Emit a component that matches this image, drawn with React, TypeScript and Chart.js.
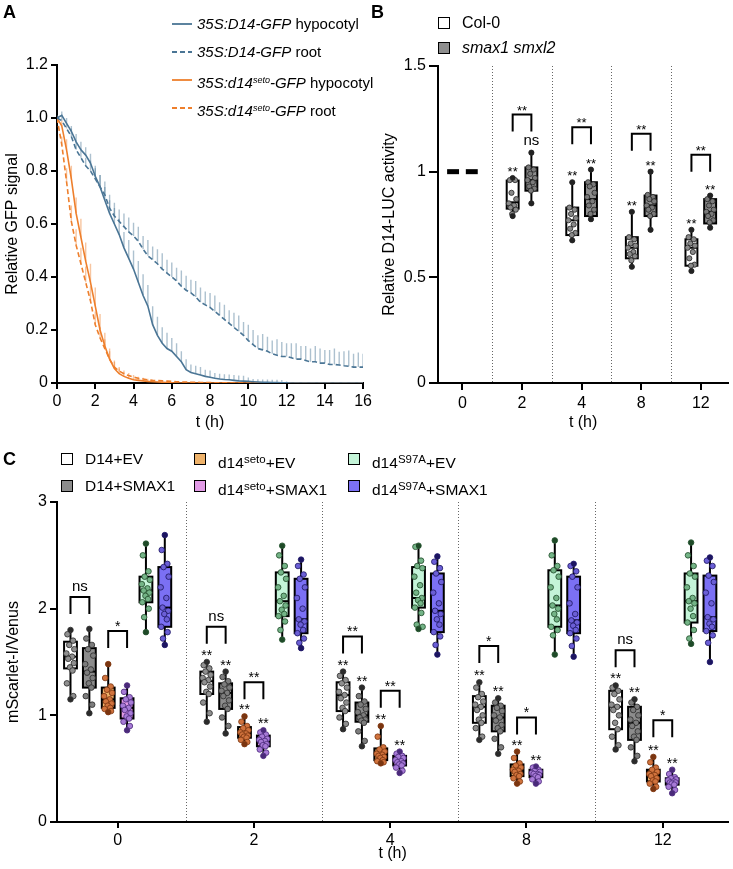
import React, { useEffect, useRef } from 'react';
import { Chart, registerables } from 'chart.js';

Chart.register(...registerables);

const FONT = '"Liberation Sans", Arial, Helvetica, sans-serif';

// ================= Panel A: GFP decay time course =================
const aTimeH = [0,0.25,0.5,0.75,1,1.25,1.5,1.75,2,2.25,2.5,2.75,3,3.25,3.5,3.75,4,4.25,4.5,4.75,5,5.25,5.5,5.75,6,6.25,6.5,6.75,7,7.25,7.5,7.75,8,8.25,8.5,8.75,9,9.25,9.5,9.75,10,10.25,10.5,10.75,11,11.25,11.5,11.75,12,12.25,12.5,12.75,13,13.25,13.5,13.75,14,14.25,14.5,14.75,15,15.25,15.5,15.75,16];
const aD14Hypocotyl = [
  1.00,1.01,0.98,0.95, 0.91,0.88,0.86,0.83, 0.78,0.74,0.69,0.64, 0.60,0.56,0.51,0.47,
  0.43,0.38,0.33,0.29, 0.22,0.18,0.15,0.13, 0.12,0.10,0.08,0.05, 0.04,0.035,0.03,0.025,
  0.022,0.018,0.015,0.013, 0.012,0.010,0.008,0.007, 0.006,0.005,0.004,0.003, 0.003,0.002,0.002,0.001,
  0.001,0,0,0, 0,0,0,0, 0,0,0,0, 0,0,0,0, 0];
const aD14HypocotylErr = [
  0.01,0.015,0.02,0.02, 0.03,0.03,0.03,0.035, 0.04,0.045,0.05,0.05, 0.06,0.06,0.06,0.07,
  0.07,0.08,0.08,0.08, 0.07,0.07,0.06,0.06, 0.05,0.05,0.04,0.04, 0.03,0.03,0.03,0.025,
  0.025,0.02,0.02,0.02, 0.02,0.02,0.02,0.02, 0.015,0.01,0.01,0.01, 0.01,0.01,0.01,0.01,
  0.005,0,0,0, 0,0,0,0, 0,0,0,0, 0,0,0,0, 0];
const aD14Root = [
  1.00,0.99,0.96,0.93, 0.88,0.85,0.82,0.80, 0.77,0.74,0.71,0.66, 0.63,0.61,0.59,0.57,
  0.555,0.535,0.505,0.48, 0.465,0.45,0.43,0.415, 0.40,0.385,0.365,0.35, 0.34,0.325,0.305,0.295,
  0.285,0.27,0.255,0.24, 0.225,0.21,0.195,0.18, 0.16,0.145,0.13,0.125, 0.12,0.11,0.105,0.10,
  0.10,0.095,0.09,0.09, 0.085,0.08,0.08,0.075, 0.075,0.07,0.07,0.068, 0.065,0.063,0.06,0.06, 0.06];
const aD14RootErr = [
  0.01,0.02,0.02,0.03, 0.03,0.035,0.03,0.04, 0.04,0.045,0.05,0.05, 0.05,0.045,0.05,0.055,
  0.05,0.055,0.05,0.06, 0.05,0.055,0.06,0.05, 0.055,0.05,0.06,0.055, 0.05,0.06,0.055,0.05,
  0.055,0.06,0.05,0.055, 0.05,0.055,0.06,0.05, 0.06,0.055,0.05,0.06, 0.055,0.05,0.06,0.055,
  0.05,0.055,0.06,0.05, 0.055,0.05,0.06,0.055, 0.05,0.055,0.06,0.05, 0.055,0.06,0.05,0.055, 0.05];
const aSetoHypocotyl = [
  1.00,0.97,0.88,0.77, 0.64,0.55,0.46,0.38, 0.29,0.20,0.14,0.09, 0.055,0.035,0.025,0.018,
  0.012,0.010,0.008,0.006, 0.005,0.004,0.003,0.002, 0.001,0,0,0, 0,0,0,0,
  0,0,0,0, 0,0,0,0, 0,0,0,0, 0,0,0,0,
  0,0,0,0, 0,0,0,0, 0,0,0,0, 0,0,0,0, 0];
const aSetoHypocotylErr = [
  0.005,0.02,0.04,0.05, 0.06,0.07,0.07,0.07, 0.07,0.06,0.05,0.04, 0.03,0.02,0.015,0.01,
  0.01,0.008,0.005,0.005, 0,0,0,0, 0,0,0,0, 0,0,0,0,
  0,0,0,0, 0,0,0,0, 0,0,0,0, 0,0,0,0,
  0,0,0,0, 0,0,0,0, 0,0,0,0, 0,0,0,0, 0];
const aSetoRoot = [
  1.00,0.90,0.76,0.61, 0.52,0.45,0.38,0.31, 0.22,0.17,0.13,0.09, 0.06,0.045,0.035,0.028,
  0.022,0.018,0.015,0.012, 0.010,0.009,0.008,0.007, 0.006,0.005,0.004,0.004, 0.003,0.003,0.002,0.002,
  0.002,0.001,0.001,0.001, 0,0,0,0, 0,0,0,0, 0,0,0,0,
  0,0,0,0, 0,0,0,0, 0,0,0,0, 0,0,0,0, 0];
const aSetoRootErr = [
  0.005,0.03,0.05,0.06, 0.06,0.06,0.06,0.055, 0.05,0.04,0.035,0.03, 0.02,0.015,0.012,0.01,
  0.008,0.006,0.005,0.004, 0,0,0,0, 0,0,0,0, 0,0,0,0,
  0,0,0,0, 0,0,0,0, 0,0,0,0, 0,0,0,0,
  0,0,0,0, 0,0,0,0, 0,0,0,0, 0,0,0,0, 0];
const aXTicks = [0, 2, 4, 6, 8, 10, 12, 14, 16];
const aYTicks = [0, 0.2, 0.4, 0.6, 0.8, 1.0, 1.2];

// ================= Panel B: D14-LUC =================
const bCategories = ['0', '2', '4', '8', '12'];
const bTicks = [0, 1, 2, 3, 4];
const bYTicks = [0, 0.5, 1, 1.5];
const bYTickLabels = ['0', '0.5', '1', '1.5'];
// [min, q1, median, q3, max]
const bCol0Stats = [[1,1,1,1,1],[0.79,0.825,0.855,0.958,0.97],[0.675,0.70,0.77,0.83,0.95],[0.55,0.59,0.64,0.69,0.81],[0.53,0.555,0.64,0.68,0.725]];
const bSmaxStats = [[1,1,1,1,1],[0.85,0.91,0.96,1.02,1.09],[0.775,0.79,0.87,0.95,1.01],[0.725,0.79,0.84,0.887,1.0],[0.735,0.755,0.81,0.87,0.887]];
const bCol0Points = [[],
  [0.97,0.96,0.96,0.90,0.87,0.85,0.84,0.83,0.82,0.80,0.79],
  [0.95,0.83,0.82,0.80,0.78,0.77,0.75,0.73,0.71,0.70,0.675],
  [0.81,0.69,0.68,0.66,0.65,0.64,0.62,0.61,0.60,0.58,0.55],
  [0.725,0.69,0.68,0.66,0.65,0.64,0.62,0.59,0.56,0.555,0.53]];
const bSmaxPoints = [[],
  [1.09,1.02,1.01,0.99,0.97,0.96,0.95,0.93,0.92,0.91,0.85],
  [1.01,0.95,0.94,0.93,0.90,0.88,0.86,0.84,0.82,0.80,0.775],
  [1.0,0.89,0.88,0.87,0.86,0.84,0.83,0.82,0.80,0.79,0.725],
  [0.887,0.87,0.86,0.84,0.82,0.81,0.80,0.79,0.77,0.76,0.735]];
const bCol0Labels = ['', '**', '**', '**', '**'];
const bSmaxLabels = ['', 'ns', '**', '**', '**'];
const bBracketY = [null, 1.27, 1.21, 1.18, 1.08];
const bBracketLabels = ['', '**', '**', '**', '**'];

// ================= Panel C: mScarlet-I / Venus =================
const cCategories = ['0', '2', '4', '8', '12'];
const cTicks = [0, 1, 2, 3, 4];
const cYTicks = [0, 1, 2, 3];
const cYTickLabels = ['0', '1', '2', '3'];
const cD14EVStats = [[1.15,1.44,1.55,1.69,1.80],[0.94,1.20,1.32,1.41,1.50],[0.87,1.04,1.19,1.31,1.41],[0.77,0.93,1.08,1.18,1.31],[0.68,0.87,1.08,1.23,1.28]];
const cD14SmaxStats = [[1.02,1.26,1.41,1.63,1.81],[0.83,1.06,1.21,1.30,1.41],[0.71,0.94,1.00,1.12,1.26],[0.64,0.85,0.98,1.09,1.16],[0.57,0.77,0.93,1.08,1.15]];
const cSetoEVStats = [[1.03,1.07,1.15,1.26,1.48],[0.73,0.79,0.83,0.89,0.99],[0.55,0.58,0.63,0.69,0.90],[0.36,0.43,0.48,0.54,0.66],[0.31,0.38,0.44,0.49,0.61]];
const cSetoSmaxStats = [[0.86,0.97,1.07,1.16,1.28],[0.62,0.71,0.76,0.81,0.86],[0.46,0.53,0.57,0.62,0.66],[0.36,0.42,0.45,0.49,0.52],[0.27,0.35,0.38,0.41,0.49]];
const cS97AEVStats = [[1.78,2.06,2.17,2.30,2.61],[1.71,1.93,2.07,2.34,2.59],[1.81,2.01,2.10,2.39,2.59],[1.57,1.83,2.03,2.36,2.64],[1.67,1.87,2.07,2.33,2.62]];
const cS97ASmaxStats = [[1.66,1.83,2.01,2.39,2.69],[1.63,1.77,1.90,2.28,2.46],[1.57,1.78,1.98,2.33,2.49],[1.55,1.77,1.89,2.30,2.42],[1.50,1.79,1.92,2.31,2.48]];
const cD14EVPoints = [
  [1.80,1.76,1.70,1.66,1.62,1.58,1.55,1.53,1.49,1.45,1.42,1.30,1.18,1.15],
  [1.50,1.47,1.44,1.41,1.38,1.35,1.33,1.31,1.27,1.22,1.20,1.12,1.02,0.94],
  [1.41,1.37,1.33,1.30,1.26,1.22,1.19,1.16,1.12,1.07,1.04,0.98,0.92,0.87],
  [1.31,1.26,1.20,1.17,1.13,1.10,1.08,1.05,1.00,0.96,0.93,0.88,0.80,0.77],
  [1.28,1.26,1.23,1.20,1.15,1.10,1.08,1.05,1.00,0.93,0.87,0.80,0.72,0.68]];
const cD14SmaxPoints = [
  [1.81,1.72,1.66,1.62,1.56,1.48,1.43,1.40,1.35,1.30,1.26,1.18,1.10,1.02],
  [1.41,1.36,1.32,1.29,1.26,1.23,1.21,1.18,1.14,1.09,1.06,0.98,0.90,0.83],
  [1.26,1.18,1.13,1.10,1.06,1.03,1.00,0.98,0.96,0.95,0.93,0.85,0.76,0.71],
  [1.16,1.12,1.09,1.07,1.04,1.00,0.98,0.95,0.91,0.88,0.85,0.78,0.70,0.64],
  [1.15,1.12,1.08,1.05,1.00,0.96,0.93,0.90,0.85,0.80,0.77,0.70,0.62,0.57]];
const cSetoEVPoints = [
  [1.48,1.35,1.27,1.24,1.21,1.18,1.15,1.13,1.11,1.09,1.07,1.06,1.04,1.03],
  [0.99,0.94,0.90,0.88,0.86,0.84,0.83,0.82,0.81,0.80,0.79,0.77,0.75,0.73],
  [0.90,0.80,0.70,0.68,0.66,0.64,0.63,0.62,0.61,0.60,0.58,0.57,0.56,0.55],
  [0.66,0.60,0.55,0.53,0.51,0.49,0.48,0.47,0.45,0.44,0.43,0.41,0.38,0.36],
  [0.61,0.56,0.51,0.49,0.47,0.45,0.44,0.43,0.41,0.39,0.38,0.36,0.33,0.31]];
const cSetoSmaxPoints = [
  [1.28,1.22,1.17,1.15,1.12,1.09,1.07,1.05,1.02,0.99,0.97,0.94,0.90,0.86],
  [0.86,0.84,0.82,0.80,0.78,0.77,0.76,0.75,0.73,0.72,0.71,0.68,0.65,0.62],
  [0.66,0.64,0.62,0.61,0.60,0.58,0.57,0.56,0.55,0.54,0.53,0.51,0.48,0.46],
  [0.52,0.51,0.49,0.48,0.47,0.46,0.45,0.45,0.44,0.43,0.42,0.40,0.38,0.36],
  [0.49,0.45,0.42,0.41,0.40,0.39,0.38,0.37,0.37,0.36,0.35,0.33,0.30,0.27]];
const cS97AEVPoints = [
  [2.61,2.50,2.35,2.30,2.27,2.23,2.19,2.17,2.15,2.12,2.09,2.06,2.00,1.92,1.78],
  [2.59,2.50,2.40,2.34,2.28,2.20,2.12,2.07,2.03,1.99,1.95,1.93,1.88,1.80,1.71],
  [2.59,2.58,2.45,2.40,2.38,2.30,2.22,2.15,2.10,2.08,2.05,2.01,1.96,1.85,1.83,1.81],
  [2.64,2.50,2.40,2.36,2.30,2.20,2.10,2.03,2.00,1.95,1.90,1.83,1.80,1.75,1.57],
  [2.62,2.50,2.40,2.33,2.30,2.20,2.10,2.07,2.05,2.00,1.93,1.87,1.80,1.72,1.67]];
const cS97ASmaxPoints = [
  [2.69,2.55,2.42,2.39,2.30,2.20,2.10,2.01,1.98,1.95,1.90,1.83,1.78,1.72,1.66],
  [2.46,2.40,2.32,2.28,2.20,2.10,2.00,1.90,1.88,1.85,1.80,1.77,1.72,1.68,1.63],
  [2.49,2.44,2.38,2.33,2.25,2.15,2.05,1.98,1.95,1.90,1.85,1.78,1.74,1.66,1.57],
  [2.42,2.40,2.35,2.30,2.20,2.05,1.95,1.89,1.87,1.84,1.80,1.77,1.72,1.65,1.55],
  [2.48,2.45,2.40,2.31,2.25,2.15,2.05,1.92,1.90,1.86,1.83,1.79,1.75,1.68,1.50]];
const cStarLabels = ['', '**', '**', '**', '**'];
const cNoLabels = ['', '', '', '', ''];
const cD14BracketY = [2.11, 1.83, 1.74, 1.65, 1.61];
const cD14BracketLabels = ['ns', 'ns', '**', '*', 'ns'];
const cSetoBracketY = [1.79, 1.31, 1.23, 0.98, 0.955];
const cSetoBracketLabels = ['*', '**', '**', '*', '*'];

// ================= styling helpers =================
const JITTER = [0.15, -0.6, 0.5, -0.25, 0.75, -0.8, 0.3, -0.45, 0.65, -0.1, 0.4, -0.7, 0.55, -0.35, 0.8, -0.55, 0.05];

function axis(size: number, tickLength: number, padding: number) {
  return {
    ticks: { color: '#000', font: { family: FONT, size }, padding, autoSkip: false, maxRotation: 0 },
    grid: { display: true, drawOnChartArea: false, drawTicks: true, tickLength, color: '#000', lineWidth: 2 },
    border: { display: true, color: '#000', width: 2 },
  };
}

const errorBarPlugin = {
  id: 'errorBars',
  beforeDatasetsDraw(chart: any) {
    const { ctx, chartArea, scales } = chart;
    const x = scales.x, y = scales.y;
    ctx.save();
    ctx.beginPath();
    ctx.rect(chartArea.left, chartArea.top - 5, chartArea.width, chartArea.height + 5);
    ctx.clip();
    chart.data.datasets.forEach((ds: any) => {
      const errs = ds.errUp;
      if (!errs) return;
      ctx.strokeStyle = ds.errColor;
      ctx.lineWidth = 1.4;
      ctx.beginPath();
      ds.data.forEach((p: any, j: number) => {
        if (!errs[j]) return;
        const px = x.getPixelForValue(p.x);
        ctx.moveTo(px, y.getPixelForValue(p.y));
        ctx.lineTo(px, y.getPixelForValue(p.y + errs[j]));
      });
      ctx.stroke();
    });
    ctx.restore();
  },
};

type BoxGroup = {
  offset: number; half: number; fill: string; ptFill: string; ptStroke: string;
  stats: number[][]; points: number[][]; labels: string[];
};
type Bracket = { a: number; b: number; ys: (number | null)[]; labels: string[] };

function drawAnn(ctx: any, text: string, cx: number, refY: number, starSize: number, nsSize: number) {
  if (!text) return;
  const isWord = /[a-z]/.test(text);
  ctx.font = `${isWord ? nsSize : starSize}px ${FONT}`;
  ctx.fillStyle = '#000';
  ctx.textAlign = 'center';
  ctx.textBaseline = 'alphabetic';
  ctx.fillText(text, cx, isWord ? refY - 5 : refY + 1);
}

function makeBoxPlugin(groups: BoxGroup[], brackets: Bracket[], separators: number[], legLen: number, starSize: number, nsSize: number) {
  return {
    id: 'boxes',
    beforeDatasetsDraw(chart: any) {
      const { ctx, chartArea, scales } = chart;
      const x = scales.x, y = scales.y;
      ctx.save();
      ctx.strokeStyle = '#666';
      ctx.lineWidth = 1;
      ctx.setLineDash([1, 2]);
      separators.forEach((s) => {
        const px = Math.round(x.getPixelForValue(s)) + 0.5;
        ctx.beginPath();
        ctx.moveTo(px, chartArea.top);
        ctx.lineTo(px, chartArea.bottom);
        ctx.stroke();
      });
      ctx.setLineDash([]);
      groups.forEach((g) => g.stats.forEach((st, ci) => {
        const c = ci + g.offset;
        const cx = x.getPixelForValue(c);
        const l = x.getPixelForValue(c - g.half);
        const r = x.getPixelForValue(c + g.half);
        const [pMn, pQ1, pMd, pQ3, pMx] = st.map((v) => y.getPixelForValue(v));
        if (st[3] - st[1] < 1e-9) {
          ctx.fillStyle = '#000';
          ctx.fillRect(l, pMd - 2.5, r - l, 5);
          return;
        }
        ctx.strokeStyle = '#000';
        ctx.lineWidth = 2;
        ctx.beginPath();
        ctx.moveTo(cx, pMx); ctx.lineTo(cx, pQ3);
        ctx.moveTo(cx, pQ1); ctx.lineTo(cx, pMn);
        ctx.stroke();
        ctx.fillStyle = g.fill;
        ctx.fillRect(l, pQ3, r - l, pQ1 - pQ3);
        ctx.strokeRect(l, pQ3, r - l, pQ1 - pQ3);
        ctx.beginPath();
        ctx.moveTo(l, pMd); ctx.lineTo(r, pMd);
        ctx.stroke();
      }));
      ctx.restore();
    },
    afterDatasetsDraw(chart: any) {
      const { ctx, scales } = chart;
      const x = scales.x, y = scales.y;
      ctx.save();
      groups.forEach((g) => g.stats.forEach((st, ci) => {
        if (st[3] - st[1] < 1e-9) return;
        const cx = x.getPixelForValue(ci + g.offset);
        const pMx = y.getPixelForValue(st[4]);
        const pMn = y.getPixelForValue(st[0]);
        ctx.fillStyle = g.ptStroke;
        [pMx, pMn].forEach((py) => { ctx.beginPath(); ctx.arc(cx, py, 2.6, 0, Math.PI * 2); ctx.fill(); });
        drawAnn(ctx, g.labels[ci], cx, pMx - 3, starSize, nsSize);
      }));
      ctx.strokeStyle = '#000';
      ctx.lineWidth = 2;
      brackets.forEach((b) => b.ys.forEach((val, ci) => {
        if (val === null || val === undefined) return;
        const xa = x.getPixelForValue(ci + groups[b.a].offset);
        const xb = x.getPixelForValue(ci + groups[b.b].offset);
        const T = y.getPixelForValue(val);
        ctx.beginPath();
        ctx.moveTo(xa, T + legLen); ctx.lineTo(xa, T); ctx.lineTo(xb, T); ctx.lineTo(xb, T + legLen);
        ctx.stroke();
        drawAnn(ctx, b.labels[ci], (xa + xb) / 2, T - 1, starSize, nsSize);
      }));
      ctx.restore();
    },
  };
}

function pointData(g: BoxGroup) {
  const out: { x: number; y: number }[] = [];
  g.points.forEach((pts, ci) => {
    const st = g.stats[ci];
    pts.forEach((v, k) => {
      const extreme = v === st[0] || v === st[4];
      const j = extreme ? 0 : JITTER[k % JITTER.length] * g.half * 0.8;
      out.push({ x: ci + g.offset + j, y: v });
    });
  });
  return out;
}

function boxChartConfig(groups: BoxGroup[], brackets: Bracket[], o: any) {
  const xAxis = axis(o.xTickSize, o.xTickLen, o.xTickPad);
  const yAxis = axis(o.yTickSize, o.yTickLen, o.yTickPad);
  return {
    type: 'scatter',
    data: {
      datasets: groups.map((g) => ({
        data: pointData(g),
        pointRadius: o.ptRadius,
        pointBackgroundColor: g.ptFill,
        pointBorderColor: g.ptStroke,
        pointBorderWidth: 0.8,
        showLine: false,
      })),
    },
    options: {
      responsive: false,
      animation: false,
      events: [],
      layout: { padding: o.padding },
      plugins: { legend: { display: false }, tooltip: { enabled: false } },
      scales: {
        x: {
          type: 'linear', min: o.xMin, max: o.xMax,
          ...xAxis,
          afterBuildTicks: (s: any) => { s.ticks = o.xTicks.map((v: number) => ({ value: v })); },
          afterFit: (s: any) => { s.height = o.xHeight; },
          ticks: { ...xAxis.ticks, callback: (v: any) => o.xLabels[o.xTicks.indexOf(Math.round(v))] },
          title: { display: true, text: 't (h)', color: '#000', font: { family: FONT, size: 16 }, padding: { top: 0, bottom: o.xTitlePad } },
        },
        y: {
          type: 'linear', min: o.yMin, max: o.yMax,
          ...yAxis,
          afterBuildTicks: (s: any) => { s.ticks = o.yTicks.map((v: number) => ({ value: v })); },
          ticks: { ...yAxis.ticks, callback: (v: any) => { const i = o.yTicks.findIndex((t: number) => Math.abs(t - v) < 1e-9); return i >= 0 ? o.yLabels[i] : ''; } },
          afterFit: (s: any) => { s.width = o.yWidth; },
          title: { display: true, text: o.yTitle, color: '#000', font: { family: FONT, size: 16 }, padding: { top: o.yTitlePad, bottom: 0 } },
        },
      },
    },
    plugins: [makeBoxPlugin(groups, brackets, [0.5, 1.5, 2.5, 3.5], o.legLen, o.starSize, o.nsSize)],
  };
}

// ================= charts =================
const BLUE = '#4a7595';
const BLUE_ERR = 'rgba(74,117,149,0.45)';
const ORANGE = '#ee7f2c';
const ORANGE_ERR = 'rgba(238,127,44,0.45)';

function lineDs(values: number[], errs: number[], color: string, errColor: string, dashed: boolean) {
  return {
    data: aTimeH.map((t, i) => ({ x: t, y: values[i] })),
    errUp: errs,
    errColor,
    borderColor: color,
    borderWidth: 1.6,
    borderDash: dashed ? [5, 3] : [],
    pointRadius: 0,
    fill: false,
    tension: 0,
  };
}

function configA() {
  const ax = axis(16, 6, 3);
  return {
    type: 'line',
    data: {
      datasets: [
        lineDs(aD14Hypocotyl, aD14HypocotylErr, BLUE, BLUE_ERR, false),
        lineDs(aD14Root, aD14RootErr, BLUE, BLUE_ERR, true),
        lineDs(aSetoHypocotyl, aSetoHypocotylErr, ORANGE, ORANGE_ERR, false),
        lineDs(aSetoRoot, aSetoRootErr, ORANGE, ORANGE_ERR, true),
      ],
    },
    options: {
      responsive: false,
      animation: false,
      events: [],
      layout: { padding: { top: 65, right: 10, bottom: 0, left: 0 } },
      plugins: { legend: { display: false }, tooltip: { enabled: false } },
      scales: {
        x: {
          type: 'linear', min: 0, max: 16,
          ...ax,
          afterBuildTicks: (s: any) => { s.ticks = aXTicks.map((v) => ({ value: v })); },
          afterFit: (s: any) => { s.height = 49; },
          title: { display: true, text: 't (h)', color: '#000', font: { family: FONT, size: 16 }, padding: 0 },
        },
        y: {
          type: 'linear', min: 0, max: 1.2,
          ...ax,
          afterBuildTicks: (s: any) => { s.ticks = aYTicks.map((v) => ({ value: v })); },
          ticks: { ...ax.ticks, callback: (v: any) => (v === 0 ? '0' : Number(v).toFixed(1)) },
          afterFit: (s: any) => { s.width = 57; },
          title: { display: true, text: 'Relative GFP signal', color: '#000', font: { family: FONT, size: 16 }, padding: { top: 3, bottom: 0 } },
        },
      },
    },
    plugins: [errorBarPlugin],
  };
}

const B_HALF = 0.1;
const bGroups: BoxGroup[] = [
  { offset: -0.157, half: B_HALF, fill: '#ffffff', ptFill: '#8a8a8a', ptStroke: '#222', stats: bCol0Stats, points: bCol0Points, labels: bCol0Labels },
  { offset: 0.157, half: B_HALF, fill: '#8e8e8e', ptFill: '#7a7a7a', ptStroke: '#222', stats: bSmaxStats, points: bSmaxPoints, labels: bSmaxLabels },
];
const bBrackets: Bracket[] = [{ a: 0, b: 1, ys: bBracketY, labels: bBracketLabels }];

const C_STEP = 0.1384;
const C_HALF = 0.047;
const cGroups: BoxGroup[] = [
  { offset: -2.5 * C_STEP, half: C_HALF, fill: '#ffffff', ptFill: '#8f8f8f', ptStroke: '#2b2b2b', stats: cD14EVStats, points: cD14EVPoints, labels: cStarLabels },
  { offset: -1.5 * C_STEP, half: C_HALF, fill: '#8c8c8c', ptFill: '#7d7d7d', ptStroke: '#2b2b2b', stats: cD14SmaxStats, points: cD14SmaxPoints, labels: cStarLabels },
  { offset: -0.5 * C_STEP, half: C_HALF, fill: '#eeb26a', ptFill: '#d0733d', ptStroke: '#7a3510', stats: cSetoEVStats, points: cSetoEVPoints, labels: cStarLabels },
  { offset: 0.5 * C_STEP, half: C_HALF, fill: '#e29be6', ptFill: '#a77ad6', ptStroke: '#4a2a7a', stats: cSetoSmaxStats, points: cSetoSmaxPoints, labels: cStarLabels },
  { offset: 1.5 * C_STEP, half: C_HALF, fill: '#c4f4d8', ptFill: '#74b487', ptStroke: '#1f4a28', stats: cS97AEVStats, points: cS97AEVPoints, labels: cNoLabels },
  { offset: 2.5 * C_STEP, half: C_HALF, fill: '#7b70f4', ptFill: '#6b5fd6', ptStroke: '#1c1560', stats: cS97ASmaxStats, points: cS97ASmaxPoints, labels: cNoLabels },
];
const cBrackets: Bracket[] = [
  { a: 0, b: 1, ys: cD14BracketY, labels: cD14BracketLabels },
  { a: 2, b: 3, ys: cSetoBracketY, labels: cSetoBracketLabels },
];

function configB() {
  return boxChartConfig(bGroups, bBrackets, {
    padding: { top: 66, right: 0, bottom: 0, left: 0 },
    xMin: -0.41, xMax: 4.46, xTicks: bTicks, xLabels: bCategories, xTickSize: 16, xTickLen: 7, xTickPad: 4, xHeight: 49, xTitlePad: 0,
    yMin: 0, yMax: 1.5, yTicks: bYTicks, yLabels: bYTickLabels, yTickSize: 16, yTickLen: 9, yTickPad: 3, yWidth: 68, yTitle: 'Relative D14-LUC activity', yTitlePad: 10,
    ptRadius: 2.6, legLen: 17, starSize: 13, nsSize: 15,
  });
}

function configC() {
  return boxChartConfig(cGroups, cBrackets, {
    padding: { top: 62, right: 0, bottom: 0, left: 0 },
    xMin: -0.445, xMax: 4.48, xTicks: cTicks, xLabels: cCategories, xTickSize: 16, xTickLen: 6, xTickPad: 3, xHeight: 47, xTitlePad: 6,
    yMin: 0, yMax: 3, yTicks: cYTicks, yLabels: cYTickLabels, yTickSize: 16, yTickLen: 7, yTickPad: 3, yWidth: 57, yTitle: 'mScarlet-I/Venus', yTitlePad: 4,
    ptRadius: 2.8, legLen: 17, starSize: 14, nsSize: 15,
  });
}

// ================= legends (HTML) =================
const aLegendRows = [
  { color: BLUE, dashed: false, it: '35S:D14', sup: '', it2: '-GFP', rest: ' hypocotyl' },
  { color: BLUE, dashed: true, it: '35S:D14', sup: '', it2: '-GFP', rest: ' root' },
  { color: ORANGE, dashed: false, it: '35S:d14', sup: 'seto', it2: '-GFP', rest: ' hypocotyl' },
  { color: ORANGE, dashed: true, it: '35S:d14', sup: 'seto', it2: '-GFP', rest: ' root' },
];
const cLegendParts = [
  ['D14', '', '+EV'], ['D14', '', '+SMAX1'],
  ['d14', 'seto', '+EV'], ['d14', 'seto', '+SMAX1'],
  ['d14', 'S97A', '+EV'], ['d14', 'S97A', '+SMAX1'],
];

const abs = (left: number, top: number, extra: any = {}) => ({ position: 'absolute' as const, left, top, ...extra });

export default function App() {
  const aRef = useRef<HTMLCanvasElement>(null);
  const bRef = useRef<HTMLCanvasElement>(null);
  const cRef = useRef<HTMLCanvasElement>(null);

  useEffect(() => {
    const a = new Chart(aRef.current as any, configA() as any);
    const b = new Chart(bRef.current as any, configB() as any);
    const c = new Chart(cRef.current as any, configC() as any);
    return () => { a.destroy(); b.destroy(); c.destroy(); };
  }, []);

  const aRowY = [24, 52, 80, 108];
  const cColX = [61, 194, 348];
  const cRowY = [459, 486];

  return (
    <div style={{ position: 'absolute', left: 0, top: 0, width: 733, height: 869, background: '#fff', overflow: 'hidden', fontFamily: FONT, color: '#000' }}>
      <canvas ref={aRef} width={375} height={432} style={abs(0, 0)} />
      <canvas ref={bRef} width={363} height={432} style={abs(370, 0)} />
      <canvas ref={cRef} width={733} height={429} style={abs(0, 440)} />

      <div style={abs(3, 2, { fontWeight: 'bold', fontSize: 18, lineHeight: '20px' })}>A</div>
      <div style={abs(371, 2, { fontWeight: 'bold', fontSize: 18, lineHeight: '20px' })}>B</div>
      <div style={abs(3, 449, { fontWeight: 'bold', fontSize: 18, lineHeight: '20px' })}>C</div>

      {aLegendRows.map((r, i) => (
        <React.Fragment key={i}>
          <svg width={20} height={6} style={abs(172, aRowY[i] - 3)}>
            <line x1={0} y1={3} x2={20} y2={3} stroke={r.color} strokeWidth={1.8} strokeDasharray={r.dashed ? '5,3' : undefined} />
          </svg>
          <div style={abs(197, aRowY[i] - 9, { fontSize: 15, lineHeight: '18px', whiteSpace: 'nowrap' })}>
            <i>{r.it}{r.sup ? <span style={{ fontSize: 9, verticalAlign: '5px' }}>{r.sup}</span> : null}{r.it2}</i>{r.rest}
          </div>
        </React.Fragment>
      ))}

      <div style={abs(438, 17, { width: 12, height: 12, boxSizing: 'border-box', border: '1.5px solid #000', background: '#fff' })} />
      <div style={abs(462, 13, { fontSize: 16, lineHeight: '19px', whiteSpace: 'nowrap' })}>Col-0</div>
      <div style={abs(438, 42, { width: 12, height: 12, boxSizing: 'border-box', border: '1.5px solid #000', background: '#8e8e8e' })} />
      <div style={abs(462, 38, { fontSize: 16, lineHeight: '19px', whiteSpace: 'nowrap', fontStyle: 'italic' })}>smax1 smxl2</div>

      {cLegendParts.map((p, i) => {
        const col = Math.floor(i / 2), row = i % 2;
        const x = cColX[col], y = cRowY[row];
        return (
          <React.Fragment key={i}>
            <div style={abs(x, y - 6, { width: 12, height: 12, boxSizing: 'border-box', border: '1.5px solid #000', background: cGroups[i].fill })} />
            <div style={abs(x + 24, y - 9, { fontSize: 15.5, lineHeight: '18px', whiteSpace: 'nowrap' })}>
              {p[0]}{p[1] ? <span style={{ fontSize: 11.5, verticalAlign: '5px' }}>{p[1]}</span> : null}{p[2]}
            </div>
          </React.Fragment>
        );
      })}
    </div>
  );
}
